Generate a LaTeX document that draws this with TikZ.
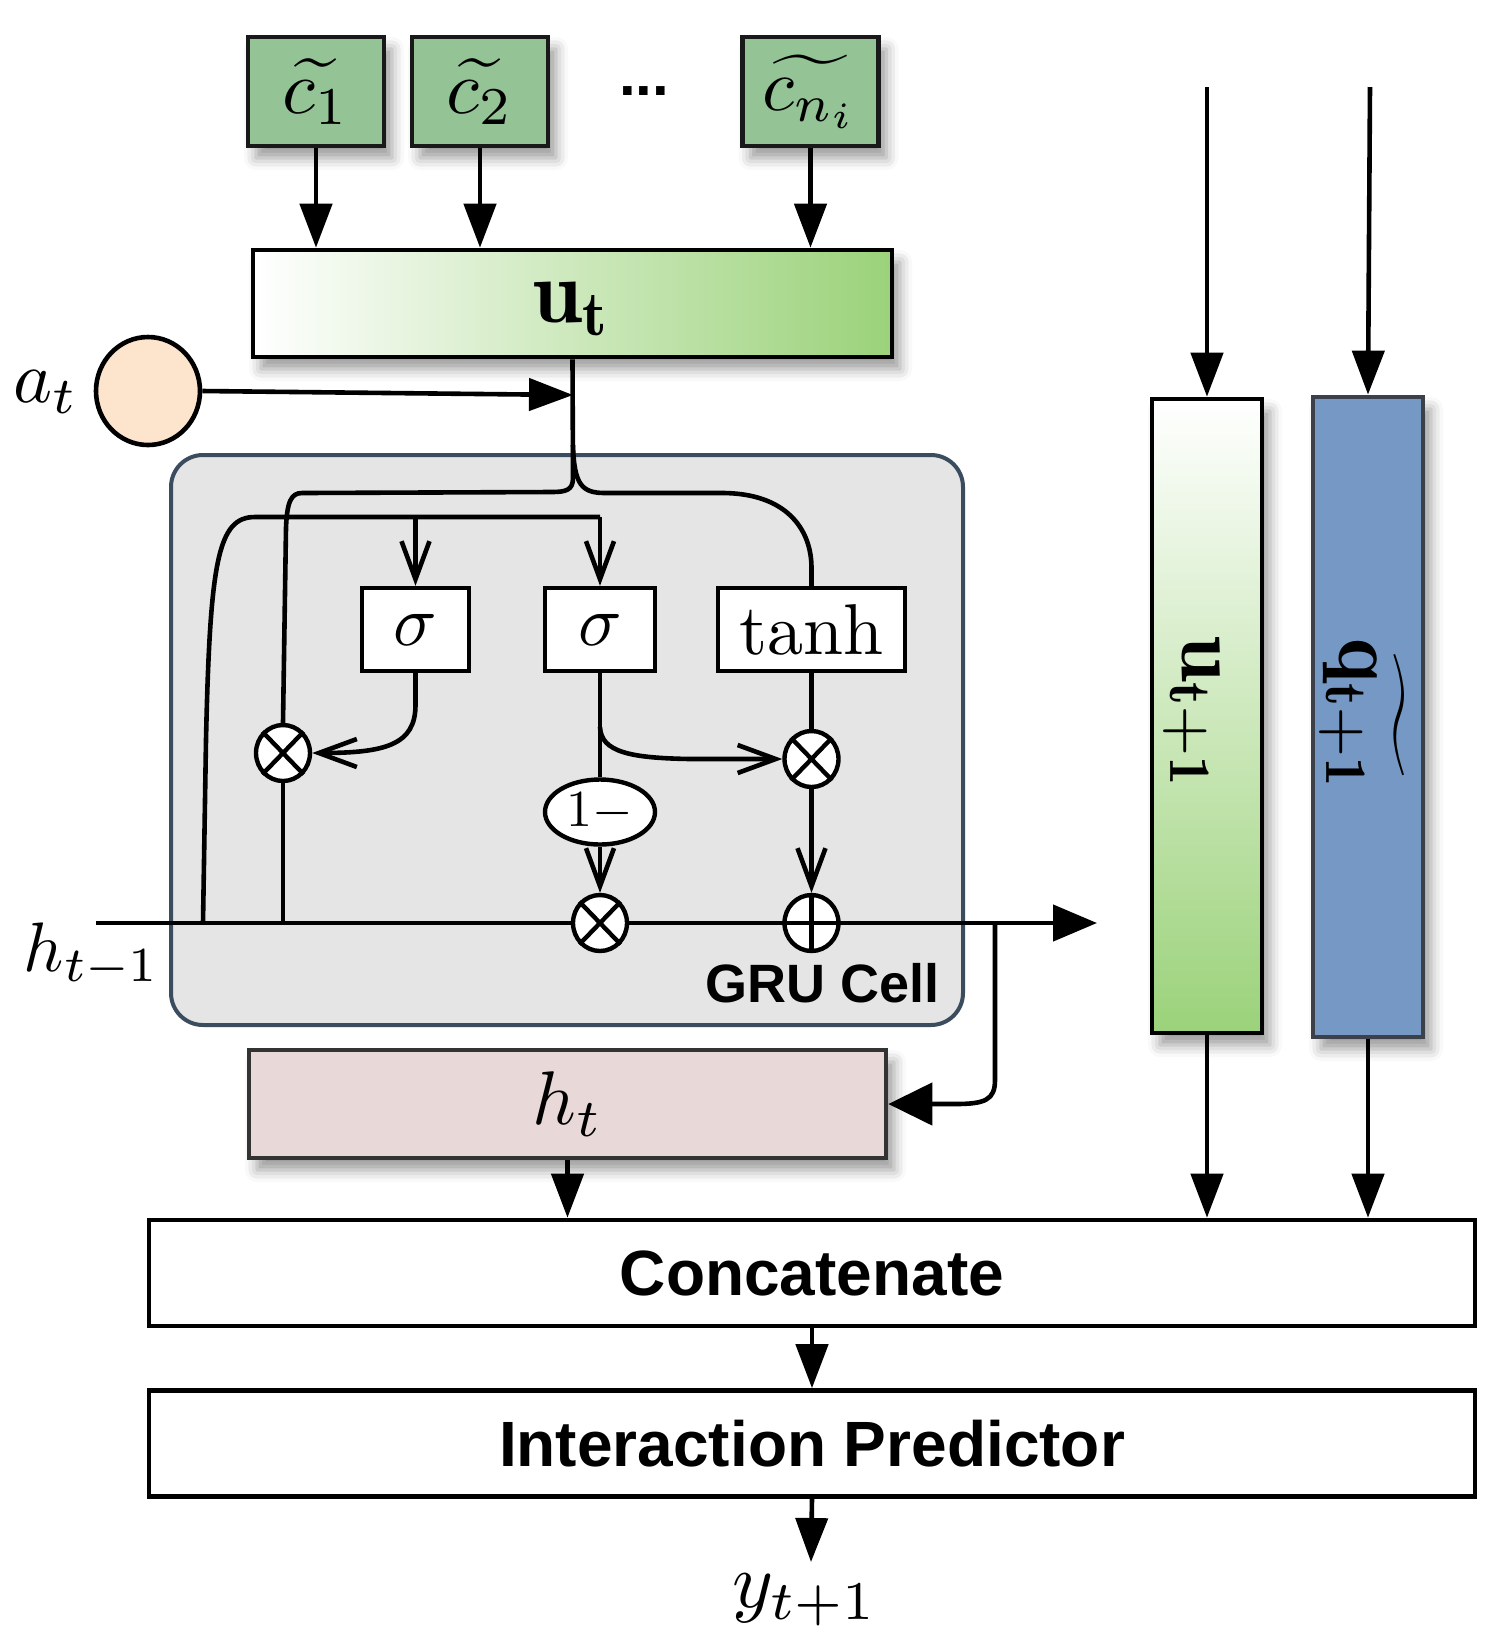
\documentclass[tikz,border=0pt]{standalone}
\usepackage{fix-cm}
\usepackage{amsmath}
\usepackage{graphicx}
\usepackage{fontspec}
\newfontfamily\hvfont{Liberation Sans}
\usetikzlibrary{arrows.meta,shapes.geometric,shadows.blur}
\definecolor{cgreen}{RGB}{148,196,150}
\definecolor{ugreen}{RGB}{155,210,122}
\definecolor{peach}{RGB}{253,228,204}
\definecolor{grufill}{RGB}{229,229,229}
\definecolor{gruedge}{RGB}{58,76,94}
\definecolor{htpink}{RGB}{232,216,216}
\definecolor{qblue}{RGB}{117,153,196}
\definecolor{qedge}{RGB}{60,64,72}
\newcommand{\fsz}[1]{\fontsize{#1}{#1}\selectfont}
\newcommand{\smath}[2]{\scalebox{#1}{\fsz{10}$#2$}}
\tikzset{
  ln/.style={line width=1.15pt},
  fa/.style={line width=1.15pt,-{Triangle[length=11pt,width=8pt]}},
  oa/.style={line width=1.15pt,-{Straight Barb[length=9.5pt,width=7pt]}},
  shd/.style={blur shadow={shadow xshift=2pt,shadow yshift=-3pt,shadow blur radius=3pt,shadow opacity=40}},
  cbox/.style={draw=black!90,line width=1.1pt,fill=cgreen,minimum width=34pt,minimum height=27.25pt,inner sep=0pt,shd},
  gate/.style={draw,line width=1.1pt,fill=white,minimum height=20.75pt,inner sep=0pt},
  op/.style={ellipse,draw,line width=1.1pt,fill=white,minimum width=13.5pt,minimum height=14pt,inner sep=0pt},
  wide/.style={draw,line width=1.15pt,fill=white,minimum width=331.5pt,minimum height=26.5pt,inner sep=0pt},
  sflab/.style={font=\hvfont\bfseries\fsz{16}},
}
\begin{document}
\begin{tikzpicture}[x=0.25pt,y=-0.25pt]
\useasboundingbox (0,0) rectangle (1498,1652);
% GRU cell background
\node[draw=gruedge,fill=grufill,line width=1pt,rounded corners=8pt,minimum width=198pt,minimum height=142.5pt,inner sep=0pt] (gru) at (567,740) {};
% input boxes
\node[cbox] (c1) at (316,91.5) {\smath{1.9}{\widetilde{c_1}}};
\node[cbox] (c2) at (480,91.5) {\smath{1.9}{\widetilde{c_2}}};
\node[cbox] (cn) at (810.5,91.5) {\smath{1.85}{\widetilde{c_{n_i}}}};
\node[font=\hvfont\bfseries\fsz{15}] (dots) at (644,91) {...};
\node[draw,line width=1.15pt,left color=white,right color=ugreen,minimum width=159.75pt,minimum height=26.75pt,inner sep=0pt,shd] (ut) at (572.5,303.5) {};
\node (utl) at (572.5,309) {\smath{2.25}{\mathbf{u_t}}};
\draw[fa] (c1.south) -- (c1.south |- ut.north);
\draw[fa] (c2.south) -- (c2.south |- ut.north);
\draw[fa] (cn.south) -- (cn.south |- ut.north);
% a_t
\node[ellipse,draw,line width=1.15pt,fill=peach,minimum width=26pt,minimum height=27pt,inner sep=0pt] (at) at (148,391) {};
\node (atl) at (46,392) {\smath{1.85}{a_t}};
\coordinate (J) at (573,395);
\draw[fa] (at.east) -- (J);
% gates and operators
\node[gate,minimum width=26.75pt] (sig1) at (415.5,629.5) {\smath{1.8}{\sigma}};
\node[gate,minimum width=27.5pt] (sig2) at (600,629.5) {\smath{1.8}{\sigma}};
\node[gate,minimum width=46.75pt] (tanh) at (811.5,629.5) {\smath{1.8}{\tanh}};
\node[op] (mulL) at (283,753) {};
\node[op] (mulR) at (811.5,759) {};
\node[op] (mulM) at (600,923) {};
\node[op] (plus) at (811.5,923) {};
\node[ellipse,draw,line width=1.1pt,fill=white,minimum width=27.5pt,minimum height=16.25pt,inner sep=0pt] (onem) at (600,812) {\smath{1.3}{1-}};
% h_t box, output boxes
\node[draw=black!80,line width=1.15pt,fill=htpink,minimum width=159.25pt,minimum height=27pt,inner sep=0pt,shd] (ht) at (567.5,1104) {\smath{1.9}{h_t}};
\node[wide,sflab] (cat) at (812,1273) {Concatenate};
\node[wide,sflab] (ip) at (812,1443.5) {Interaction Predictor};
\node (y) at (805,1600) {\smath{1.95}{y_{t+1}}};
% right bars
\node[draw,line width=1.15pt,top color=white,bottom color=ugreen,minimum width=27.5pt,minimum height=158.5pt,inner sep=0pt,shd] (ub) at (1207,716) {};
\node[draw=qedge,line width=1.2pt,fill=qblue,minimum width=27.5pt,minimum height=160pt,inner sep=0pt,shd] (qb) at (1368,717) {};
\node[rotate=-90] (ulab) at (1192,713) {\smath{2.1}{\mathbf{u_{t+1}}}};
\node[rotate=-90] (qlab) at (1362,715) {\smath{2.1}{\widetilde{\mathbf{q_{t+1}}}}};
% labels
\node (hlab) at (92,955) {\smath{1.75}{h_{t-1}}};
\node[font=\hvfont\bfseries\fsz{13.5}] (grul) at (823,983) {GRU Cell};
% coordinates
\coordinate (hs) at (96,923);
\coordinate (he) at (1097,923);
\coordinate (hb) at (995,923);
\coordinate (hL1) at (203,923);
\coordinate (hL2) at (283,923);
\coordinate (r1) at (415.5,517);
\coordinate (r2) at (600,517);
\coordinate (z2) at (600,727);
\coordinate (ua) at (1207,87);
\coordinate (qa) at (1370,87);
\coordinate (yend) at (811,1562);
% trunk from u_t
\draw[ln] (ut.south) -- (573,478) .. controls (573,490) and (566,492) .. (552,492) -- (302,493) .. controls (291,493) and (287,502) .. (286,528) -- (mulL.north);
\draw[ln] (573,445) .. controls (574,485) and (582,493) .. (605,493) -- (722,493) .. controls (785,493) and (811.5,528) .. (811.5,568) -- (tanh.north);
% hidden state line
\draw[ln] (hs) -- (mulM.west);
\draw[ln] (mulM.east) -- (plus.west);
\draw[line width=1.15pt,-{Triangle[length=11pt,width=9pt]}] (plus.east) -- (he);
\draw[ln] (hL1) -- (206,740) .. controls (210,560) and (218,517) .. (255,517) -- (r2);
\draw[oa] (r1) -- (sig1.north);
\draw[oa] (r2) -- (sig2.north);
\draw[ln] (hL2) -- (mulL.south);
\draw[oa] (sig1.south) -- (415.5,705) .. controls (415.5,745) and (385,753) .. (mulL.east);
\draw[ln] (sig2.south) -- (onem.north);
\draw[oa] (z2) .. controls (601,752) and (630,758) .. (690,759) -- (mulR.west);
\draw[ln] (tanh.south) -- (mulR.north);
\draw[oa] (mulR.south) -- (plus.north);
\draw[oa] (onem.south) -- (mulM.north);
\draw[line width=1.15pt,-{Triangle[length=11pt,width=10.5pt]}] (hb) -- (995,1080) .. controls (995,1100) and (985,1104) .. (955,1104) -- (ht.east);
% operator glyphs
\foreach \n in {mulL,mulR,mulM}{
  \draw[line width=1.1pt] (\n.north east) -- (\n.south west) (\n.north west) -- (\n.south east);
}
\draw[line width=1.1pt] (plus.north) -- (plus.south) (plus.west) -- (plus.east);
% bottom arrows
\draw[fa] (ht.south) -- (ht.south |- cat.north);
\draw[fa] (cat.south) -- (ip.north);
\draw[fa] (ip.south) -- (yend);
\draw[fa] (ua) -- (ub.north);
\draw[fa] (qa) -- (qb.north);
\draw[fa] (ub.south) -- (ub.south |- cat.north);
\draw[fa] (qb.south) -- (qb.south |- cat.north);
\end{tikzpicture}
\end{document}
